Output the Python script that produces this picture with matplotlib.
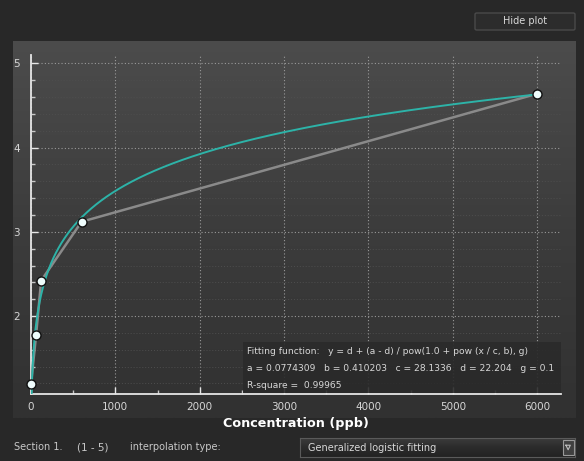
import numpy as np
import matplotlib
matplotlib.use('Agg')
import matplotlib.pyplot as plt
from matplotlib.patches import Rectangle, FancyBboxPatch
from matplotlib.ticker import MultipleLocator

# measured points (concentration, response)
conc = [0, 60, 120, 600, 6000]
resp = [1.19, 1.77, 2.42, 3.12, 4.64]

# generalized logistic fit parameters shown in the chart
fit_a, fit_b, fit_c, fit_d, fit_g = 0.0774309, 0.410203, 28.1336, 22.204, 0.1
r_square = 0.99965

x_ticks = [0, 1000, 2000, 3000, 4000, 5000, 6000]
y_ticks = [2, 3, 4, 5]

W, H = 584, 461
fig = plt.figure(figsize=(W / 100, H / 100), dpi=100)
fig.patch.set_facecolor('#282828')
plt.rcParams['font.family'] = ['DejaVu Sans']

def fx(px):
    return px / W

def fy(py):
    return 1 - py / H

# plot panel with vertical gradient
panel = fig.add_axes([fx(13), fy(418), fx(576 - 13), (418 - 41) / H], zorder=0)
grad = np.linspace(0, 1, 256).reshape(-1, 1)
panel.imshow(grad, aspect='auto', cmap=matplotlib.colors.LinearSegmentedColormap.from_list(
    'p', ['#4c4c4c', '#3c3c3c', '#313131']), extent=[0, 1, 0, 1])
panel.set_axis_off()

ax = fig.add_axes([fx(31), fy(394), fx(561 - 31), (394 - 55) / H], zorder=2)
ax.set_facecolor('none')

xs = np.linspace(0, 6000, 3000)
ys = fit_d + (fit_a - fit_d) / np.power(1.0 + np.power(xs / fit_c, fit_b), fit_g)

ax.plot(conc, resp, color='#8a8a8a', lw=1.8, zorder=3)
ax.plot(xs, ys, color='#2db3a8', lw=1.4, zorder=4)
ax.scatter(conc, resp, s=42, facecolor='#eefcfc', edgecolor='#101010', linewidth=1.0, zorder=5, clip_on=False)

ax.set_xlim(0, 6282)
ax.set_ylim(1.074, 5.10)
ax.set_xticks(x_ticks)
ax.set_yticks(y_ticks)
ax.xaxis.set_minor_locator(MultipleLocator(500))
ax.yaxis.set_minor_locator(MultipleLocator(0.2))

ax.grid(which='major', color='#9a9a9a', linestyle=(0, (1, 2)), lw=0.8)
ax.grid(which='minor', axis='y', color='#4e4e4e', linestyle=(0, (1, 2)), lw=0.7)

for s in ['top', 'right']:
    ax.spines[s].set_visible(False)
for s in ['left', 'bottom']:
    ax.spines[s].set_color('#e6e6e6')
    ax.spines[s].set_linewidth(1.3)

ax.tick_params(which='major', direction='in', length=5, width=1, color='#e6e6e6',
               labelcolor='#d6d6d6', labelsize=7.5)
ax.tick_params(which='minor', direction='in', length=3, width=1, color='#c8c8c8')
ax.tick_params(axis='y', pad=8)
ax.tick_params(axis='x', pad=6)

ax.set_xlabel('Concentration (ppb)', color='white', fontsize=9.2, fontweight='bold', labelpad=3)

# fitting info box
fig.patches.append(Rectangle((fx(243), fy(393)), fx(561 - 243), (393 - 342) / H,
                             transform=fig.transFigure, facecolor='#2a2a2a', alpha=0.9,
                             edgecolor='none', zorder=3))
info = ['Fitting function:   y = d + (a - d) / pow(1.0 + pow (x / c, b), g)',
        f'a = {fit_a}   b = {fit_b}   c = {fit_c}   d = {fit_d}   g = {fit_g}',
        f'R-square =  {r_square}']
for i, line in enumerate(info):
    fig.text(fx(247), fy(351 + i * 17), line, color='#d8d8d8', fontsize=6.6,
             va='center', ha='left', zorder=4)

# "Hide plot" button
fig.patches.append(FancyBboxPatch((fx(475), fy(30)), fx(575 - 475), (30 - 13) / H,
                                  boxstyle='round,pad=0,rounding_size=0.003',
                                  transform=fig.transFigure, facecolor='#2c2c2c',
                                  edgecolor='#4a4a4a', lw=1))
fig.text(fx(525), fy(21.5), 'Hide plot', color='#d8d8d8', fontsize=7, ha='center', va='center')

# bottom bar
fig.text(fx(14), fy(447), 'Section 1.', color='#c8c8c8', fontsize=7, va='center')
fig.text(fx(77), fy(447), '(1 - 5)', color='#c8c8c8', fontsize=7.5, va='center')
fig.text(fx(130), fy(447), 'interpolation type:', color='#c8c8c8', fontsize=7, va='center')

combo = fig.add_axes([fx(300), fy(457), fx(575 - 300), (457 - 438) / H], zorder=3)
combo.imshow(grad, aspect='auto', cmap=matplotlib.colors.LinearSegmentedColormap.from_list(
    'c', ['#3e3e3e', '#2c2c2c', '#222222']), extent=[0, 1, 0, 1])
combo.set_xlim(0, 1)
combo.set_ylim(0, 1)
combo.set_xticks([])
combo.set_yticks([])
for s in combo.spines.values():
    s.set_color('#5a5a5a')
combo.text(0.03, 0.5, 'Generalized logistic fitting', color='#d8d8d8', fontsize=7, va='center')
combo.add_patch(Rectangle((0.955, 0.1), 0.04, 0.8, facecolor='#404040', edgecolor='#9a9a9a', lw=0.8))
combo.plot([0.967, 0.983, 0.975, 0.967], [0.62, 0.62, 0.38, 0.62], color='#bdbdbd', lw=0.8)

fig.savefig('out.png', dpi=100, facecolor=fig.get_facecolor())
